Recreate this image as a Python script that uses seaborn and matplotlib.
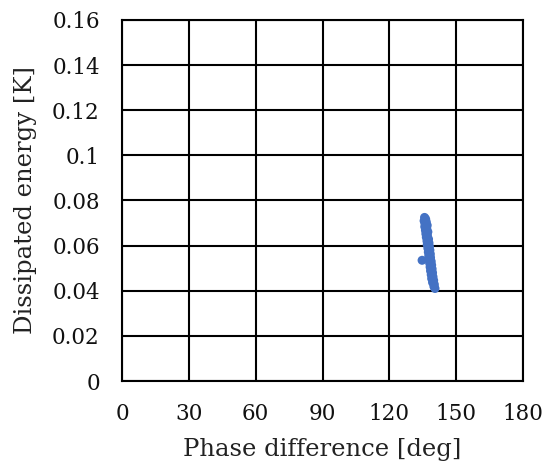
import matplotlib
matplotlib.use("Agg")
import matplotlib.pyplot as plt
import seaborn as sns
import pandas as pd

# Measured phase difference [deg] and dissipated energy [K]
phase_deg = [135.8, 136.3, 135.6, 136.6, 136.0, 137.0, 135.9, 136.8, 136.2, 137.3,
             136.4, 137.1, 136.6, 137.6, 136.9, 137.8, 137.0, 138.0, 137.3, 138.2,
             137.5, 138.4, 137.7, 138.5, 134.7, 137.9, 138.8, 138.1, 139.0, 138.3,
             139.2, 138.5, 139.4, 138.8, 139.6, 139.0, 139.9, 139.4, 140.2, 140.0,
             140.5]
energy_k = [0.0725, 0.0718, 0.0710, 0.0705, 0.0698, 0.0690, 0.0684, 0.0676, 0.0668, 0.0661,
            0.0652, 0.0645, 0.0637, 0.0629, 0.0620, 0.0612, 0.0604, 0.0596, 0.0588, 0.0580,
            0.0571, 0.0563, 0.0555, 0.0547, 0.0535, 0.0539, 0.0530, 0.0522, 0.0514, 0.0505,
            0.0497, 0.0488, 0.0480, 0.0471, 0.0462, 0.0454, 0.0446, 0.0437, 0.0428, 0.0419,
            0.0410]

x_ticks = [0, 30, 60, 90, 120, 150, 180]
y_ticks = [0, 0.02, 0.04, 0.06, 0.08, 0.10, 0.12, 0.14, 0.16]
y_tick_labels = ["0", "0.02", "0.04", "0.06", "0.08", "0.1", "0.12", "0.14", "0.16"]

sns.set_theme(style="white")
plt.rcParams["font.family"] = ["DejaVu Serif"]

df = pd.DataFrame({"phase": phase_deg, "energy": energy_k})

fig = plt.figure(figsize=(5.47, 4.63), dpi=100)
ax = fig.add_axes([122 / 547, 1 - 381 / 463, 401 / 547, 361 / 463])

sns.scatterplot(data=df, x="phase", y="energy", ax=ax, color="#4472C4",
                s=42, linewidth=0, edgecolor="none", zorder=3)

ax.set_xlim(0, 180)
ax.set_ylim(0, 0.16)
ax.set_xticks(x_ticks)
ax.set_xticklabels([str(t) for t in x_ticks])
ax.set_yticks(y_ticks)
ax.set_yticklabels(y_tick_labels)
ax.grid(True, color="black", linewidth=1.5)
ax.set_axisbelow(True)
for sp in ax.spines.values():
    sp.set_color("black")
    sp.set_linewidth(1.5)
ax.tick_params(axis="x", length=0, pad=16, labelsize=15.5, colors="#111111")
ax.tick_params(axis="y", length=0, pad=16, labelsize=15.5, colors="#111111")

ax.set_xlabel("Phase difference [deg]", fontsize=17.5, color="#222222", labelpad=9)
ax.set_ylabel("Dissipated energy [K]", fontsize=17.5, color="#222222", labelpad=11)

fig.savefig("out.png", dpi=100, facecolor="white")
